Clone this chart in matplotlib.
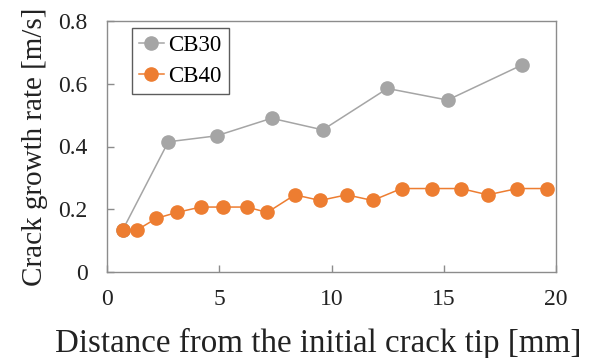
import matplotlib
matplotlib.use("Agg")
import matplotlib.pyplot as plt

# data
cb30_x = [0.70, 2.73, 4.88, 7.33, 9.61, 12.49, 15.17, 18.49]
cb30_y = [0.134, 0.415, 0.434, 0.490, 0.453, 0.585, 0.548, 0.660]

cb40_x = [0.70, 1.34, 2.20, 3.12, 4.17, 5.18, 6.22, 7.14, 8.37, 9.49,
          10.68, 11.83, 13.12, 14.46, 15.77, 16.96, 18.28, 19.61]
cb40_y = [0.134, 0.134, 0.171, 0.190, 0.207, 0.207, 0.207, 0.190, 0.246, 0.228,
          0.246, 0.228, 0.266, 0.266, 0.266, 0.246, 0.266, 0.266]

plt.rcParams.update({
    'font.family': 'serif',
    'font.serif': ['Liberation Serif', 'DejaVu Serif'],
})

fig = plt.figure(figsize=(6.05, 3.58), dpi=100)
ax = fig.add_axes([107 / 605, 1 - 272 / 358, 449 / 605, 251 / 358])

ax.plot(cb30_x, cb30_y, color='#A5A5A5', marker='o', markersize=9.5,
        linewidth=1.1, label='CB30')
ax.plot(cb40_x, cb40_y, color='#ED7D31', marker='o', markersize=9.5,
        linewidth=1.1, label='CB40')

ax.set_xlim(0, 20)
ax.set_ylim(0, 0.8)
ax.set_xticks([0, 5, 10, 15, 20])
ax.set_xticklabels(['0', '5', '10', '15', '20'])
ax.set_yticks([0, 0.2, 0.4, 0.6, 0.8])
ax.set_yticklabels(['0', '0.2', '0.4', '0.6', '0.8'])

for s in ax.spines.values():
    s.set_color('#8C8C8C')
    s.set_linewidth(1.0)
ax.tick_params(direction='in', length=5, width=1.0, color='#8C8C8C',
               labelsize=17, labelcolor='#222222')
ax.tick_params(axis='x', pad=12)
ax.tick_params(axis='y', pad=14)

ax.set_xlabel('Distance from the initial crack tip [mm]', fontsize=23.8,
              color='#222222', labelpad=13)
ax.xaxis.label.set_x(0.47)
ax.set_ylabel('Crack growth rate [m/s]', fontsize=21, color='#222222',
              labelpad=7)

leg = ax.legend(loc='upper left', bbox_to_anchor=(0.055, 0.972), fontsize=16.5,
                frameon=True, fancybox=False, handlelength=1.1,
                handletextpad=0.2, borderpad=0.3, labelspacing=0.45,
                borderaxespad=0)
leg.get_frame().set_edgecolor('#333333')
leg.get_frame().set_linewidth(1.0)

fig.savefig('out.png', dpi=100)
